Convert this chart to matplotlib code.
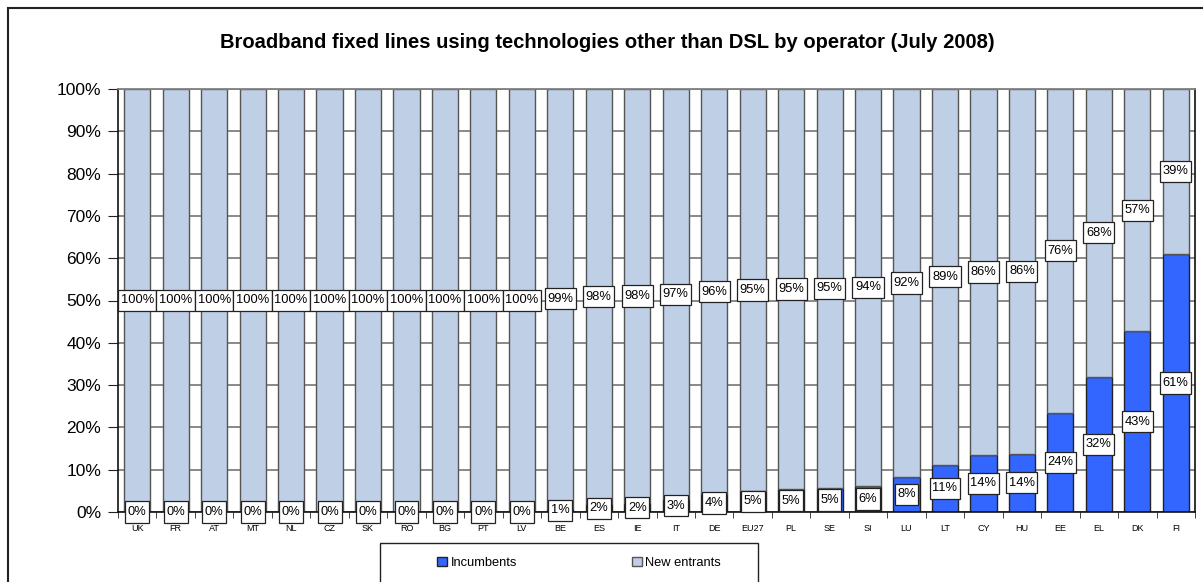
import numpy as np
import matplotlib
matplotlib.use("Agg")
import matplotlib.pyplot as plt
from matplotlib.patches import Rectangle
from matplotlib.path import Path

plt.rcParams['font.family'] = ['Liberation Sans', 'DejaVu Sans']

# --- data ---
countries = ["UK", "FR", "AT", "MT", "NL", "CZ", "SK", "RO", "BG", "PT", "LV",
             "BE", "ES", "IE", "IT", "DE", "EU27", "PL", "SE", "SI", "LU",
             "LT", "CY", "HU", "EE", "EL", "DK", "FI"]
incumbents = [0, 0, 0, 0, 0, 0, 0, 0, 0, 0, 0,
              0.8, 1.8, 2.1, 3.0, 4.2, 5.0, 5.4, 5.7, 6.2, 8.3,
              11.2, 13.5, 13.8, 23.5, 32.0, 42.7, 61.0]
new_entrants = [100 - v for v in incumbents]
inc_labels = ["0%"] * 11 + ["1%", "2%", "2%", "3%", "4%", "5%", "5%", "5%", "6%", "8%",
                            "11%", "14%", "14%", "24%", "32%", "43%", "61%"]
new_labels = ["100%"] * 11 + ["99%", "98%", "98%", "97%", "96%", "95%", "95%", "95%", "94%", "92%",
                              "89%", "86%", "86%", "76%", "68%", "57%", "39%"]

INC_COLOR = '#3366FF'
NEW_COLOR = '#BFCFE6'
W, H = 1203, 582


def tall_box(x0, y0, width, height, mutation_size):
    # label box: little side padding, more top/bottom padding
    px, py = 0.2 * mutation_size, 0.36 * mutation_size
    x0, x1 = x0 - px, x0 + width + px
    y0, y1 = y0 - py, y0 + height + py
    return Path([(x0, y0), (x1, y0), (x1, y1), (x0, y1), (x0, y0)], closed=True)


fig = plt.figure(figsize=(W / 100, H / 100), dpi=100)
ax = fig.add_axes([118 / W, 1 - 512 / H, (1195 - 118) / W, (512 - 89) / H])

# outer frame (chart area border, runs off right and bottom)
fig.patches.append(Rectangle((8 / W, -0.1), 1.2, 1 - 8 / H + 0.1,
                             transform=fig.transFigure, fill=False,
                             edgecolor='#222222', lw=1.5))

x = np.arange(len(countries))
w = 0.68
b1 = ax.bar(x, incumbents, w, color=INC_COLOR, edgecolor='#222222', lw=1.0,
            label='Incumbents', zorder=2)
b2 = ax.bar(x, new_entrants, w, bottom=incumbents, color=NEW_COLOR,
            edgecolor='#555555', lw=1.0, label='New entrants', zorder=2)

for i in range(len(countries)):
    for yv, txt in [(incumbents[i] / 2, inc_labels[i]),
                    (incumbents[i] + new_entrants[i] / 2, new_labels[i])]:
        t = ax.text(x[i], yv, txt, ha='center', va='center', fontsize=9.3, zorder=5,
                    bbox=dict(fc='white', ec='#222222', lw=0.9))
        t.get_bbox_patch().set_boxstyle(tall_box)

ax.set_xlim(-0.5, len(countries) - 0.5)
ax.set_ylim(0, 100)
ax.set_yticks(np.arange(0, 101, 10))
ax.set_yticklabels([f"{v}%" for v in range(0, 101, 10)], fontsize=12.5)
ax.yaxis.grid(True, color='#808080', lw=1.3, zorder=0)
ax.set_axisbelow(True)

ax.set_xticks(x)
ax.set_xticklabels(countries, fontsize=6.5)
ax.tick_params(axis='x', length=0, pad=8.5)
ax.set_xticks(np.arange(-0.5, len(countries), 1), minor=True)
ax.tick_params(axis='x', which='minor', length=4, direction='out', color='#222222')
ax.tick_params(axis='y', length=7, direction='out', color='#222222', pad=5)

for s in ['left', 'bottom', 'right']:
    ax.spines[s].set_color('#111111')
    ax.spines[s].set_linewidth(1.2)
ax.spines['top'].set_color('#808080')
ax.spines['top'].set_linewidth(1.3)

fig.text(607 / W, 1 - 43 / H,
         "Broadband fixed lines using technologies other than DSL by operator (July 2008)",
         ha='center', va='center', fontsize=14.5, fontweight='bold')

# legend box
fig.patches.append(Rectangle((380 / W, -0.1), 378 / W, 0.1 + 1 - 543 / H,
                             transform=fig.transFigure, fill=False,
                             edgecolor='#222222', lw=1.0))
leg = fig.legend(handles=[b1, b2], loc='center left', ncol=2,
                 bbox_to_anchor=(437 / W, 1 - 563 / H),
                 fontsize=9.3, frameon=False,
                 handlelength=0.75, handleheight=0.75, handletextpad=0.3,
                 columnspacing=8.9, borderaxespad=0, borderpad=0)

fig.savefig("out.png", dpi=100)
